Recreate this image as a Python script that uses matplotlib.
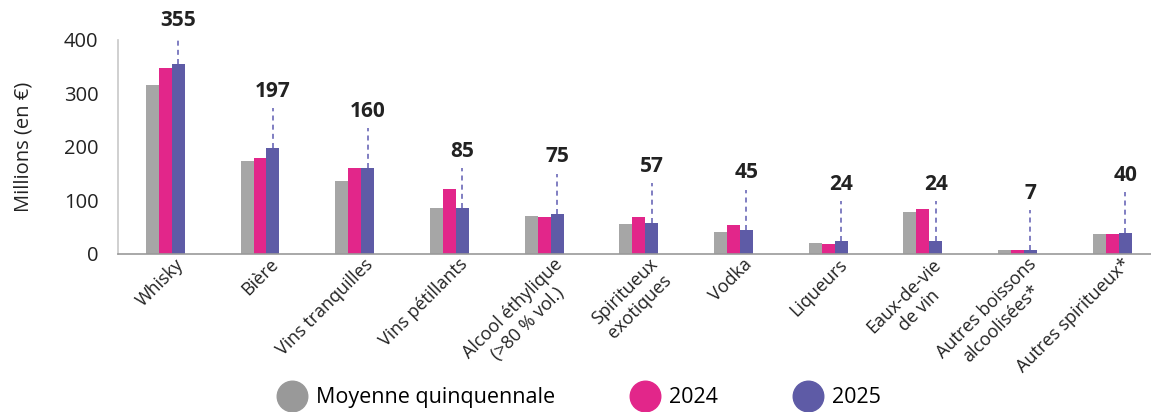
import matplotlib.pyplot as plt
from matplotlib.lines import Line2D
import numpy as np

plt.rcParams['font.family'] = ['Open Sans', 'DejaVu Sans']

categories = ["Whisky", "Bière", "Vins tranquilles", "Vins pétillants",
              "Alcool éthylique\n(>80 % vol.)", "Spiritueux\nexotiques", "Vodka",
              "Liqueurs", "Eaux-de-vie\nde vin", "Autres boissons\nalcoolisées*",
              "Autres spiritueux*"]
moyenne = [316, 174, 136, 86, 71, 56, 41, 21, 79, 7, 37]
v2024 = [348, 179, 160, 121, 69, 69, 54, 19, 84, 7, 37]
v2025 = [355, 197, 160, 85, 75, 57, 45, 24, 24, 7, 40]

grey = "#A6A6A6"
pink = "#E2268A"
purple = "#5E5BA6"

fig = plt.figure(figsize=(11.51, 4.12), dpi=100)
ax = fig.add_axes([0.1025, 0.3835, 0.8975, 0.52])

x = np.arange(len(categories))
w = 0.137
ax.bar(x - w, moyenne, w, color=grey)
ax.bar(x, v2024, w, color=pink)
ax.bar(x + w, v2025, w, color=purple)

for i, v in enumerate(v2025):
    top = v + (49 if i == 0 else 75)
    ax.plot([x[i] + w, x[i] + w], [v, top], ls=(0, (3, 2.5)), color="#6B68B8",
            lw=1.2, clip_on=False)
    ax.text(x[i] + w, top + 12, str(v), ha='center', va='bottom',
            fontsize=15, fontweight='bold', color="#222222", clip_on=False)

ax.set_xlim(-0.5, 10.41)
ax.set_ylim(0, 400)
ax.set_yticks([0, 100, 200, 300, 400])
ax.tick_params(axis='y', length=0, labelsize=14.5, pad=14, colors="#222222")
ax.tick_params(axis='x', length=0, pad=1)
ax.set_xticks(x + 0.1)
ax.set_xticklabels(categories, rotation=45, ha='right', rotation_mode='anchor',
                   ma='center', fontsize=13, color="#222222")
ax.set_ylabel("Millions (en €)", fontsize=14.5, color="#222222", labelpad=22)

for s in ['top', 'right']:
    ax.spines[s].set_visible(False)
ax.spines['left'].set_color("#C8C8C8")
ax.spines['bottom'].set_color("#999999")
ax.spines['left'].set_linewidth(1.2)
ax.spines['bottom'].set_linewidth(1.2)

handles = [Line2D([], [], ls='', marker='o', markersize=22, color="#999999"),
           Line2D([], [], ls='', marker='o', markersize=22, color=pink),
           Line2D([], [], ls='', marker='o', markersize=22, color=purple)]
fig.legend(handles, ["Moyenne quinquennale", "2024", "2025"], loc='center',
           bbox_to_anchor=(0.504, 0.035), ncol=3, frameon=False, fontsize=15.5,
           columnspacing=3.6, handletextpad=0.5, handlelength=1.2)

fig.savefig("out.png", dpi=100)
